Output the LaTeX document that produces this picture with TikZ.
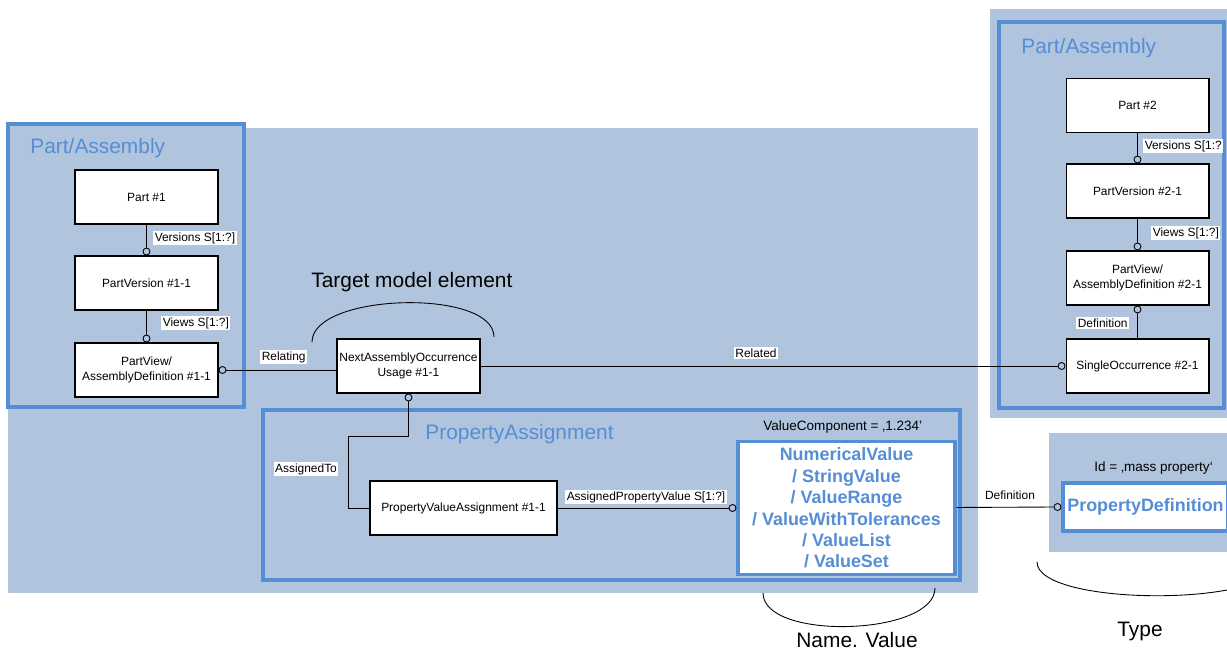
\documentclass[tikz,border=0pt]{standalone}
\usepackage{fontspec}
\setmainfont{Liberation Sans}
\usetikzlibrary{positioning}
\definecolor{pabg}{RGB}{176,196,222}
\definecolor{pablue}{RGB}{85,142,213}

\begin{document}
\begin{tikzpicture}[x=0.02cm,y=-0.02cm,
  every node/.style={font=\fontsize{6.8}{8.5}\selectfont},
  box/.style={draw,fill=white,line width=.6pt,minimum width=2.86cm,minimum height=1.08cm,align=center,inner sep=1pt},
  ring/.style={circle,draw,fill=pabg,inner sep=0pt,minimum size=.14cm,line width=.5pt},
  conn/.style={line width=.5pt},
  lbl/.style={fill=white,inner sep=.8pt},
  grp/.style={draw=pablue,line width=1.8pt},
  grptitle/.style={text=pablue,inner sep=0pt,font=\fontsize{11.9}{14}\selectfont},
  big/.style={inner sep=0pt,font=\fontsize{11.9}{14}\selectfont},
  note/.style={inner sep=0pt,font=\fontsize{7.7}{9}\selectfont},
  vbox/.style={draw=pablue,fill=white,line width=1.8pt,text=pablue,align=center,inner sep=0pt,font=\bfseries\fontsize{10.2}{12.2}\selectfont}]
\useasboundingbox (0,0) rectangle (1227,651);
% backgrounds and groups
\fill[pabg] (8,128) rectangle (978,593);
\fill[pabg] (990,9) rectangle (1227,418);
\fill[pabg] (1049,433) rectangle (1227,552);
\draw[grp,fill=pabg] (8,124) rectangle (244,407);
\draw[grp] (999,22) rectangle (1224,408);
\draw[grp] (263,410) rectangle (960,580);
\node[grptitle,anchor=base west] (ttl1) at (30,154) {Part/Assembly};
\node[grptitle,anchor=base west] (ttl2) at (1021,54) {Part/Assembly};
\node[grptitle,anchor=base west] (ttl3) at (425,440) {PropertyAssignment};

% part/assembly #1
\node[box] (part1) at (146.5,197) {Part \#1};
\node[box] (pver1) at (146.5,283) {PartVersion \#1-1};
\node[box] (pview1) at (146.5,370) {PartView/\\AssemblyDefinition \#1-1};
\node[ring,above=0pt of pver1] (r1) {};
\node[ring,above=0pt of pview1] (r2) {};
\node[ring,right=0pt of pview1] (r3) {};
\draw[conn] (part1) -- (r1);
\draw[conn] (pver1) -- (r2);
\node[lbl,anchor=west] (l1) at (153,238) {Versions S[1:?]};
\node[lbl,anchor=west] (l2) at (161,323) {Views S[1:?]};

% target element
\node[box] (naou) at (408.5,366) {NextAssemblyOccurrence\\Usage \#1-1};
\draw[conn] (r3) -- (r3 -| naou.west);
\node[lbl,anchor=west] (l3) at (260,357) {Relating};
\draw[line width=.5pt] (312,342) .. controls (312,293) and (494,288) .. (494,337);
\node[big,anchor=base west] (tme) at (311,288) {Target model element};

% part/assembly #2
\node[box] (part2) at (1137.5,105.5) {Part \#2};
\node[box] (pver2) at (1137.5,191) {PartVersion \#2-1};
\node[box] (pview2) at (1137.5,278) {PartView/\\AssemblyDefinition \#2-1};
\node[box] (so2) at (1137.5,366) {SingleOccurrence \#2-1};
\node[ring,above=0pt of pver2] (r8) {};
\node[ring,above=0pt of pview2] (r9) {};
\node[ring,below=0pt of pview2] (r10) {};
\node[ring,left=0pt of so2] (r4) {};
\draw[conn] (part2) -- (r8);
\draw[conn] (pver2) -- (r9);
\draw[conn] (r10) -- (so2);
\draw[conn] (naou) -- (r4);
\node[lbl,anchor=west] (l8) at (1143,146) {Versions S[1:?};
\node[lbl,anchor=west] (l9) at (1151,233) {Views S[1:?]};
\node[lbl,anchor=west] (l10) at (1076,323) {Definition};
\node[lbl] (l4) at (756,353) {Related};

% property assignment
\node[box,minimum width=3.74cm] (pva) at (463.5,508) {PropertyValueAssignment \#1-1};
\node[ring,below=0pt of naou] (r5) {};
\coordinate (bend) at (348,436);
\draw[conn] (r5) |- (bend) |- (pva.west);
\node[lbl] (l5) at (306,469) {AssignedTo};
\node[vbox,minimum width=4.34cm,minimum height=2.66cm] (val) at (846.5,508)
  {NumericalValue\\/ StringValue\\/ ValueRange\\/ ValueWithTolerances\\/ ValueList\\/ ValueSet};
\node[ring,left=0pt of val] (r6) {};
\draw[conn] (pva) -- (r6);
\node[lbl,anchor=west] (l6) at (565,497) {AssignedPropertyValue S[1:?]};
\node[note,anchor=base west] (vc) at (763,431) {ValueComponent = ‚1.234'};

% property definition
\node[vbox,minimum width=3.3cm,minimum height=.96cm] (pdef) at (1145.5,507) {PropertyDefinition};
\node[ring,left=0pt of pdef] (r7) {};
\draw[conn] (val) -- (r7);
\node[lbl] (l7) at (1010,495) {Definition};
\node[note,anchor=base west] (pid) at (1094,472) {Id = ‚mass property‘};

% braces below
\draw[line width=.5pt] (763,593) .. controls (763,641) and (935,636) .. (935,588);
\node[big,anchor=base] (nv) at (857,647) {Name. Value};
\draw[line width=.5pt] (1037,562) .. controls (1037,607) and (1277,607) .. (1277,562);
\node[big,anchor=base] (ty) at (1140,636) {Type};
\end{tikzpicture}
\end{document}
